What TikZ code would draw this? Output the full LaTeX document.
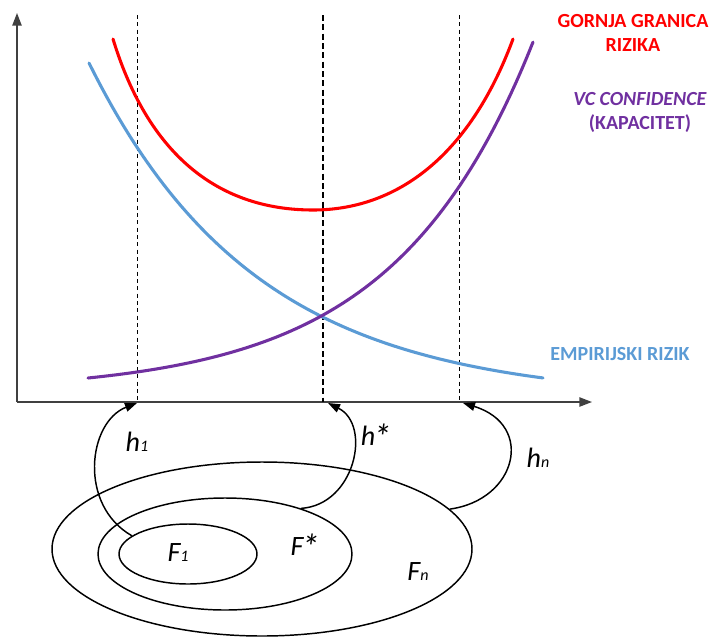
\documentclass[tikz,border=0pt]{standalone}
\usepackage{fontspec}
\setmainfont{Carlito}
\usetikzlibrary{arrows.meta,shapes.geometric}
\definecolor{riskRed}{RGB}{255,0,0}
\definecolor{riskBlue}{RGB}{91,155,213}
\definecolor{riskPurple}{RGB}{112,48,160}
\definecolor{axisGray}{RGB}{64,64,64}
\newcommand{\idx}[1]{{\fontsize{12}{12}\selectfont #1}}
\newcommand{\optmark}{\kern-1.5pt\raisebox{-3pt}{\fontsize{27}{27}\selectfont *}}

\begin{document}
\begin{tikzpicture}[
  x=0.75pt, y=-0.75pt,
  axisline/.style={draw=axisGray, line width=1.1pt, -{Triangle[length=9.5pt,width=7pt]}},
  guide/.style={draw=black, line width=0.7pt, dash pattern=on 3pt off 2.5pt},
  riskcurve/.style={line width=2.3pt, line cap=round},
  legend/.style={font=\fontsize{15}{18}\selectfont\bfseries, align=center},
  family/.style={draw=black, ellipse, line width=1.1pt, inner sep=0pt},
  setname/.style={font=\fontsize{21}{24}\selectfont\itshape},
  pick/.style={draw=black, line width=1.1pt, -{Triangle[length=9pt,width=6.5pt]}}
]
\useasboundingbox (0,0) rectangle (713,639);

% axes
\coordinate (origin) at (17,402);
\coordinate (ytip) at (17,13);
\coordinate (xtip) at (592,402);
\draw[axisline] (origin) -- (ytip);
\draw[axisline] (origin) -- (xtip);

% chosen hypotheses on the axis
\coordinate (hone) at (137,403);
\coordinate (hstar) at (328,403);
\coordinate (hn) at (463,403);
\draw[guide] (137,15) -- (hone);
\draw[guide, line width=1.1pt, dash pattern=on 4.5pt off 2.5pt] (323,15) -- (323,402);
\draw[guide] (459,15) -- (459,402);

% risk curves
\draw[riskcurve, riskRed] (113,39) .. controls (150,160) and (223,210) .. (313,210)
  .. controls (393,210) and (468,160.5) .. (513,39);
\draw[riskcurve, riskBlue] plot[domain=89:543, samples=80] (\x, {400.1-337.1*exp(-0.006*(\x-89))});
\draw[riskcurve, riskPurple] plot[domain=88:533, samples=80] (\x, {378-14.2*(exp(0.0072*(\x-88))-1)});

\node[legend, text=riskRed] (bound) at (633,33) {GORNJA GRANICA\\RIZIKA};
\node[legend, text=riskPurple] (vc) at (640,112) {\textit{VC CONFIDENCE}\\(KAPACITET)};
\node[legend, text=riskBlue] (emp) at (620,354) {EMPIRIJSKI RIZIK};

% nested function classes
\node[family, minimum width=315pt, minimum height=130.5pt] (Fn) at (262,549) {};
\node[family, minimum width=190.5pt, minimum height=84pt] (Fstar) at (225,554) {};
\node[family, minimum width=103.5pt, minimum height=45pt] (Fone) at (188,554) {};

\node[setname] (Fonelbl) at (178,553) {F\idx{1}};
\node[setname] (Fstarlbl) at (305,547) {F\optmark};
\node[setname] (Fnlbl) at (418,572) {F\idx{n}};

\draw[pick] (Fone.162) .. controls (78,505) and (88,422) .. (hone);
\draw[pick] (Fstar.31) .. controls (355,505) and (372,425) .. (hstar);
\draw[pick] (Fn.12) .. controls (517,500) and (535,425) .. (hn);

\node[setname] (honelbl) at (137,442) {h\idx{1}};
\node[setname] (hstarlbl) at (376,437) {h\optmark};
\node[setname] (hnlbl) at (538,458) {h\idx{n}};
\end{tikzpicture}
\end{document}
